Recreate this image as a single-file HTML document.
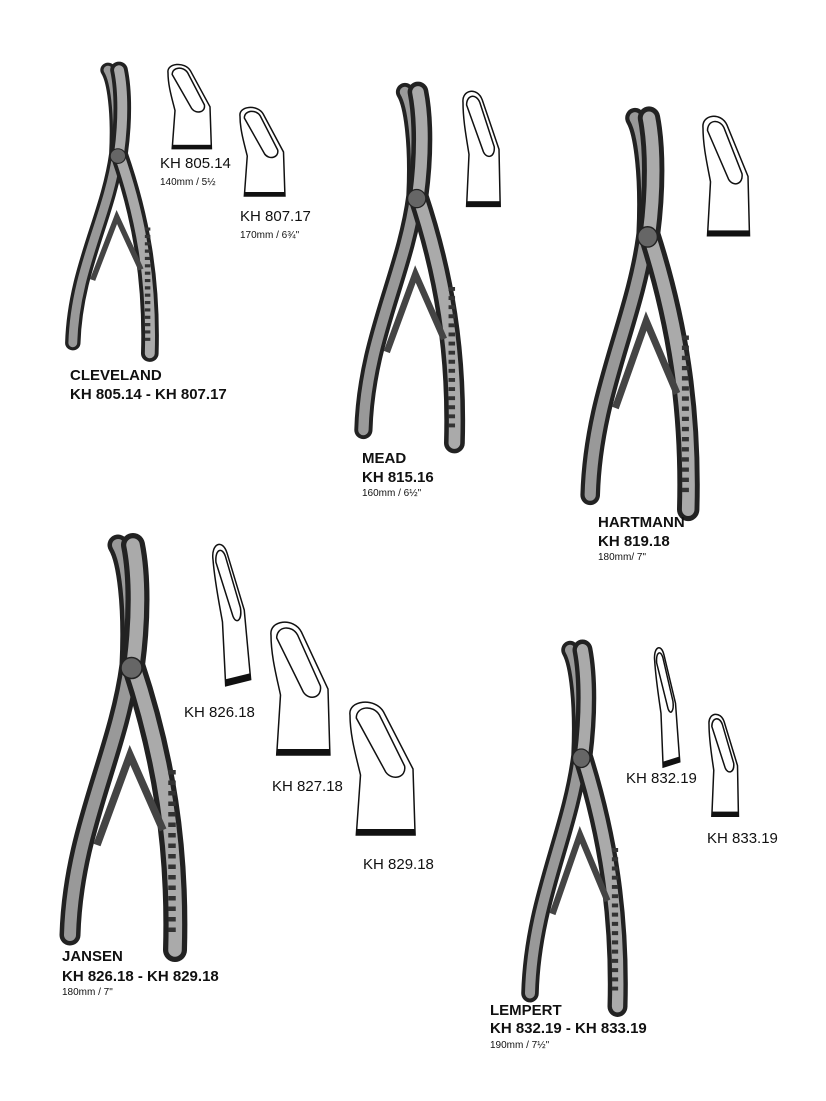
<!DOCTYPE html>
<html><head><meta charset="utf-8"><style>
body{margin:0;background:#fff;}
.w{position:relative;width:826px;height:1101px;overflow:hidden;font-family:"Liberation Sans",Arial,sans-serif;color:#111;}
.t{position:absolute;white-space:nowrap;line-height:1;}
.b{font-weight:bold;font-size:15px;}
.r{font-size:15px;}
.s{font-size:10px;}
svg{position:absolute;left:0;top:0;}
</style></head><body><div class="w">
<svg width="826" height="1101" viewBox="0 0 826 1101">
<defs>
<g id="tip">
<path d="M0,8 C-1,-2 12,-4 16,6 L30,44 L31,88 L3,88 L5,48 C3,36 0,22 0,8 Z" fill="#fff" stroke="#111" stroke-width="1.5" vector-effect="non-scaling-stroke"/>
<path d="M3,10 C3,2 11,1 14,8 L26,42 C27,50 20,52 17,46 Z" fill="none" stroke="#111" stroke-width="1.5" vector-effect="non-scaling-stroke"/>
<rect x="3" y="84" width="28" height="4" fill="#111"/>
</g>
<g id="plier">
<path d="M0,0 C6,10 10,40 8,80 C0,140 -30,190 -32,260" fill="none" stroke="#222" stroke-width="14" stroke-linecap="round"/>
<path d="M0,0 C6,10 10,40 8,80 C0,140 -30,190 -32,260" fill="none" stroke="#999" stroke-width="8" stroke-linecap="round"/>
<path d="M10,0 C14,20 14,50 10,80 C30,140 40,200 38,270" fill="none" stroke="#222" stroke-width="16" stroke-linecap="round"/>
<path d="M10,0 C14,20 14,50 10,80 C30,140 40,200 38,270" fill="none" stroke="#aaa" stroke-width="9" stroke-linecap="round"/>
<path d="M36,150 L36,260" stroke="#333" stroke-width="5" stroke-dasharray="3 4"/>
<path d="M-14,200 L8,140 L30,190" fill="none" stroke="#444" stroke-width="5"/>
<circle cx="9" cy="82" r="7" fill="#666" stroke="#222"/>
</g>
</defs>
<!-- Cleveland -->
<use href="#plier" transform="translate(108,70) scale(1.1,1.05)"/>
<use href="#tip" transform="translate(168,65) scale(1.4,0.95)"/>
<use href="#tip" transform="translate(240,108) scale(1.45,1.0)"/>
<!-- Mead -->
<use href="#plier" transform="translate(405,92) scale(1.3,1.3)"/>
<use href="#tip" transform="translate(463,92) scale(1.2,1.3)"/>
<!-- Hartmann -->
<use href="#plier" transform="translate(635,118) scale(1.4,1.45)"/>
<use href="#tip" transform="translate(703,117) scale(1.5,1.35)"/>
<!-- Jansen -->
<use href="#plier" transform="translate(118,545) scale(1.5,1.5)"/>
<use href="#tip" transform="translate(212,547) scale(0.9,1.6) rotate(-8)"/>
<use href="#tip" transform="translate(271,623) scale(1.9,1.5)"/>
<use href="#tip" transform="translate(350,703) scale(2.1,1.5)"/>
<!-- Lempert -->
<use href="#plier" transform="translate(570,650) scale(1.25,1.32)"/>
<use href="#tip" transform="translate(654,650) scale(0.6,1.35) rotate(-8)"/>
<use href="#tip" transform="translate(709,715) scale(0.95,1.15)"/>
</svg>
<div class="t b" style="left:70px;top:368px">CLEVELAND</div>
<div class="t b" style="left:70px;top:387px">KH 805.14 - KH 807.17</div>
<div class="t r" style="left:160px;top:156px">KH 805.14</div>
<div class="t s" style="left:160px;top:178px">140mm / 5½</div>
<div class="t r" style="left:240px;top:209px">KH 807.17</div>
<div class="t s" style="left:240px;top:231px">170mm / 6¾"</div>
<div class="t b" style="left:362px;top:451px">MEAD</div>
<div class="t b" style="left:362px;top:470px">KH 815.16</div>
<div class="t s" style="left:362px;top:489px">160mm / 6½"</div>
<div class="t b" style="left:598px;top:515px">HARTMANN</div>
<div class="t b" style="left:598px;top:534px">KH 819.18</div>
<div class="t s" style="left:598px;top:553px">180mm/ 7"</div>
<div class="t r" style="left:184px;top:705px">KH 826.18</div>
<div class="t r" style="left:272px;top:779px">KH 827.18</div>
<div class="t r" style="left:363px;top:857px">KH 829.18</div>
<div class="t b" style="left:62px;top:949px">JANSEN</div>
<div class="t b" style="left:62px;top:969px">KH 826.18 - KH 829.18</div>
<div class="t s" style="left:62px;top:988px">180mm / 7"</div>
<div class="t r" style="left:626px;top:771px">KH 832.19</div>
<div class="t r" style="left:707px;top:831px">KH 833.19</div>
<div class="t b" style="left:490px;top:1003px">LEMPERT</div>
<div class="t b" style="left:490px;top:1021px">KH 832.19 - KH 833.19</div>
<div class="t s" style="left:490px;top:1041px">190mm / 7½"</div>
</div></body></html>
